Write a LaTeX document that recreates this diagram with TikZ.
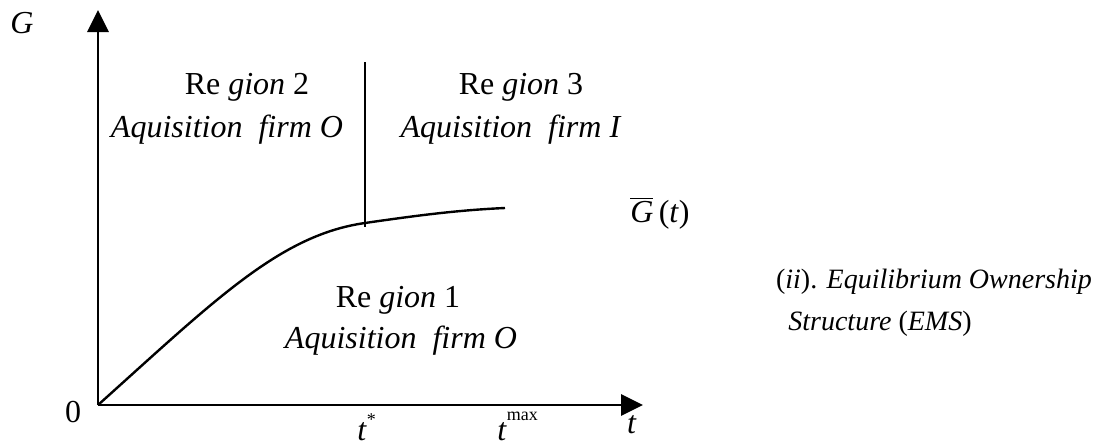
\documentclass[tikz,border=0pt]{standalone}
\usepackage{fontspec}
\setmainfont{Liberation Serif}
\usetikzlibrary{arrows.meta}

\begin{document}
\begin{tikzpicture}[x=0.5pt, y=-0.5pt,
  axis/.style={line width=1.4pt, -{Triangle[length=11pt, width=10.5pt]}},
  curve/.style={line width=1.2pt},
  txt/.style={font=\fontsize{16}{19}\selectfont, inner sep=0pt, anchor=base},
  note/.style={txt, font=\fontsize{14}{17}\selectfont}]
  \useasboundingbox (0,0) rectangle (1100,446);

  % axes
  \coordinate (origin) at (98,405);
  \coordinate (ytip) at (98,10);
  \coordinate (xtip) at (643,405);
  \draw[axis] (origin) -- (ytip);
  \draw[axis] (origin) -- (xtip);

  % boundary curve and region split
  \coordinate (tstar) at (365,223);
  \coordinate (tend) at (505,208);
  \coordinate (splittop) at (365,62);
  \coordinate (splitbot) at (365,227);
  \draw[curve] (origin) .. controls (215,300) and (280,235) .. (tstar)
    .. controls (420,215) and (460,210) .. (tend);
  \draw[curve] (splittop) -- (splitbot);

  % axis labels
  \node[txt] (glab) at (22,33) {\textit{G}};
  \node[txt] (zero) at (73,422) {0};
  \node[txt] (tlab) at (632,433) {\textit{t}};
  \node[txt, anchor=base west] (tstarlab) at (357,440)
    {\textit{t}\raisebox{7.5pt}{\fontsize{9}{9}\selectfont *}};
  \node[txt, anchor=base west] (tmaxlab) at (497,440)
    {\textit{t}\raisebox{10pt}{\fontsize{9}{9}\selectfont max}};
  \node[txt] (gbar) at (660,222) {$\overline{\mbox{\itshape G}}$\,(\textit{t})};

  % regions
  \node[txt] (reg2a) at (247,94) {Re \textit{gion} 2};
  \node[txt] (reg2b) at (227,137) {\textit{Aquisition\ \ firm O}};
  \node[txt] (reg3a) at (521,94) {Re \textit{gion} 3};
  \node[txt] (reg3b) at (511,137) {\textit{Aquisition\ \ firm I}};
  \node[txt] (reg1a) at (398,307) {Re \textit{gion} 1};
  \node[txt] (reg1b) at (401,348) {\textit{Aquisition\ \ firm O}};

  % caption
  \node[note] (emsa) at (934,288) {(\textit{ii}). \textit{Equilibrium Ownership}};
  \node[note] (emsb) at (880,330) {\textit{Structure} (\textit{EMS})};
\end{tikzpicture}
\end{document}
